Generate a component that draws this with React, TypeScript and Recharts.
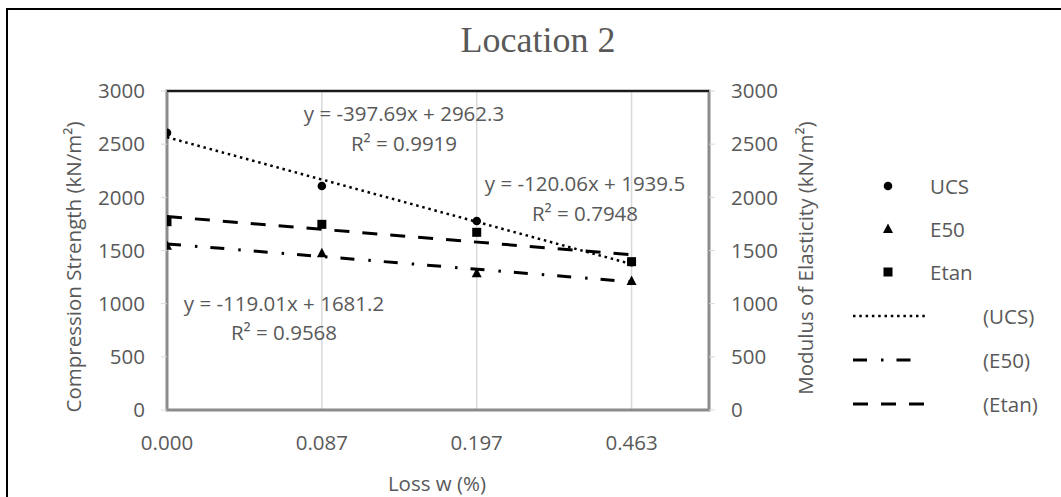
import React from 'react';
import {
  ComposedChart,
  Line,
  XAxis,
  YAxis,
  CartesianGrid,
  ReferenceArea,
  ReferenceLine,
  Customized,
} from 'recharts';

// ---- data ----
const categories = ['0.000', '0.087', '0.197', '0.463'];
const xIndex = [1, 2, 3, 4];
const ucs = [2608, 2107, 1777, 1390];
const e50 = [1545, 1473, 1285, 1213];
const etan = [1771, 1746, 1671, 1395];

// trendline end points (at first and last category)
const trendX = [1, 4];
const ucsTrend = [2565, 1372];
const e50Trend = [1562, 1205];
const etanTrend = [1819, 1459];

const yTicks = [0, 500, 1000, 1500, 2000, 2500, 3000];

const equations = [
  { eq: 'y = -397.69x + 2962.3', r2: 'R² = 0.9919' },
  { eq: 'y = -120.06x + 1939.5', r2: 'R² = 0.7948' },
  { eq: 'y = -119.01x + 1681.2', r2: 'R² = 0.9568' },
];

const legendPoints = ['UCS', 'E50', 'Etan'];
const legendTrends = ['(UCS)', '(E50)', '(Etan)'];

const pointData = xIndex.map((x, i) => ({ x, ucs: ucs[i], e50: e50[i], etan: etan[i] }));
const ucsTrendData = trendX.map((x, i) => ({ x, y: ucsTrend[i] }));
const e50TrendData = trendX.map((x, i) => ({ x, y: e50Trend[i] }));
const etanTrendData = trendX.map((x, i) => ({ x, y: etanTrend[i] }));

// ---- styles ----
const FONT = "'Open Sans', sans-serif";
const GREY = '#595959';
const FS = 20.5;

const DOT_UCS = '2.5 3.8';
const DASH_E50 = '14 14 2.5 13';
const DASH_ETAN = '15 13';

const circleShape = (cx: number, cy: number, key?: any) => (
  <circle key={key} cx={cx} cy={cy} r={4.3} fill="#000" />
);
const triShape = (cx: number, cy: number, key?: any) => (
  <polygon key={key} points={`${cx},${cy - 5.5} ${cx - 5},${cy + 4} ${cx + 5},${cy + 4}`} fill="#000" />
);
const sqShape = (cx: number, cy: number, key?: any) => (
  <rect key={key} x={cx - 4.5} y={cy - 4.5} width={9} height={9} fill="#000" />
);

const CircleDot = (p: any) => circleShape(p.cx, p.cy, `c${p.index}`);
const TriDot = (p: any) => triShape(p.cx, p.cy, `t${p.index}`);
const SqDot = (p: any) => sqShape(p.cx, p.cy, `s${p.index}`);

const Overlay = () => {
  const tStyle = { fontFamily: FONT, fontSize: FS, fill: GREY } as any;
  const legY = [186, 229, 272];
  const trendY = [316, 360, 404];
  const shapes = [circleShape, triShape, sqShape];
  const dashes = [DOT_UCS, DASH_E50, DASH_ETAN];
  const lineEnd = [928, 913, 925];
  return (
    <g>
      {/* outer frame (left & top) */}
      <line x1={7} y1={9} x2={7} y2={497} stroke="#000" strokeWidth={2} />
      <line x1={6} y1={9} x2={1061} y2={9} stroke="#000" strokeWidth={2} />
      {/* title */}
      <text x={538} y={40} textAnchor="middle" dominantBaseline="central"
        style={{ fontFamily: "'Liberation Serif', 'Times New Roman', serif", fontSize: 36, fill: GREY }}>
        Location 2
      </text>
      {/* axis titles */}
      <text x={73} y={267} textAnchor="middle" dominantBaseline="central" transform="rotate(-90 73 267)" style={tStyle}>
        Compression Strength (kN/m²)
      </text>
      <text x={805} y={258} textAnchor="middle" dominantBaseline="central" transform="rotate(-90 805 258)" style={tStyle}>
        Modulus of Elasticity (kN/m²)
      </text>
      <text x={437} y={483} textAnchor="middle" dominantBaseline="central" style={tStyle}>
        Loss w (%)
      </text>
      {/* trendline equations */}
      <text x={404} y={113} textAnchor="middle" dominantBaseline="central" style={tStyle}>{equations[0].eq}</text>
      <text x={404} y={143} textAnchor="middle" dominantBaseline="central" style={tStyle}>{equations[0].r2}</text>
      <text x={585} y={183} textAnchor="middle" dominantBaseline="central" style={tStyle}>{equations[1].eq}</text>
      <text x={585} y={213} textAnchor="middle" dominantBaseline="central" style={tStyle}>{equations[1].r2}</text>
      <text x={284} y={303} textAnchor="middle" dominantBaseline="central" style={tStyle}>{equations[2].eq}</text>
      <text x={284} y={332} textAnchor="middle" dominantBaseline="central" style={tStyle}>{equations[2].r2}</text>
      {/* legend */}
      {legendPoints.map((name, i) => (
        <g key={name}>
          {shapes[i](888, legY[i])}
          <text x={930} y={legY[i]} dominantBaseline="central" style={tStyle}>{name}</text>
        </g>
      ))}
      {legendTrends.map((name, i) => (
        <g key={name}>
          <line x1={853} y1={trendY[i]} x2={lineEnd[i]} y2={trendY[i]} stroke="#000"
            strokeWidth={i === 0 ? 2.5 : 3} strokeDasharray={dashes[i]} />
          <text x={983} y={trendY[i]} dominantBaseline="central" style={tStyle}>{name}</text>
        </g>
      ))}
    </g>
  );
};

export default function App() {
  return (
    <div style={{ position: 'absolute', left: 0, top: 0, width: 1061, height: 497, background: '#fff' }}>
      <ComposedChart
        width={1061}
        height={497}
        margin={{ top: 91, right: 282, left: 87, bottom: 47 }}
        style={{ background: '#fff' }}
      >
        <CartesianGrid stroke="#d9d9d9" strokeWidth={1.5} />
        <XAxis
          dataKey="x"
          type="number"
          domain={[1, 4.5]}
          ticks={xIndex}
          tickFormatter={(v: number) => categories[v - 1] ?? ''}
          axisLine={false}
          tickLine={false}
          tickSize={0}
          tickMargin={25}
          height={40}
          tick={{ fill: GREY, fontSize: FS, fontFamily: FONT }}
          allowDataOverflow
        />
        <YAxis
          yAxisId="left"
          domain={[0, 3000]}
          ticks={yTicks}
          width={80}
          axisLine={false}
          tickLine={{ stroke: '#d9d9d9' }}
          tickSize={6}
          tickMargin={16}
          tick={{ fill: GREY, fontSize: FS, fontFamily: FONT }}
        />
        <YAxis
          yAxisId="right"
          orientation="right"
          domain={[0, 3000]}
          ticks={yTicks}
          width={70}
          axisLine={false}
          tickLine={{ stroke: '#d9d9d9' }}
          tickSize={6}
          tickMargin={16}
          tick={{ fill: GREY, fontSize: FS, fontFamily: FONT, textAnchor: 'start' }}
        />
        <ReferenceArea yAxisId="left" x1={1} x2={4.5} y1={0} y2={3000} fill="none" stroke="#8c8c8c" strokeWidth={3} ifOverflow="visible" />
        <ReferenceLine yAxisId="left" y={3000} stroke="#1a1a1a" strokeWidth={2} ifOverflow="visible" />

        {/* trendlines */}
        <Line yAxisId="left" data={ucsTrendData} dataKey="y" stroke="#000" strokeWidth={2.5} strokeDasharray={DOT_UCS} dot={false} activeDot={false} isAnimationActive={false} />
        <Line yAxisId="right" data={e50TrendData} dataKey="y" stroke="#000" strokeWidth={3} strokeDasharray={DASH_E50} dot={false} activeDot={false} isAnimationActive={false} />
        <Line yAxisId="right" data={etanTrendData} dataKey="y" stroke="#000" strokeWidth={3} strokeDasharray={DASH_ETAN} dot={false} activeDot={false} isAnimationActive={false} />

        {/* markers */}
        <Line yAxisId="left" data={pointData} dataKey="ucs" stroke="none" dot={CircleDot} activeDot={false} isAnimationActive={false} />
        <Line yAxisId="right" data={pointData} dataKey="e50" stroke="none" dot={TriDot} activeDot={false} isAnimationActive={false} />
        <Line yAxisId="right" data={pointData} dataKey="etan" stroke="none" dot={SqDot} activeDot={false} isAnimationActive={false} />

        <Customized component={Overlay} />
      </ComposedChart>
    </div>
  );
}
